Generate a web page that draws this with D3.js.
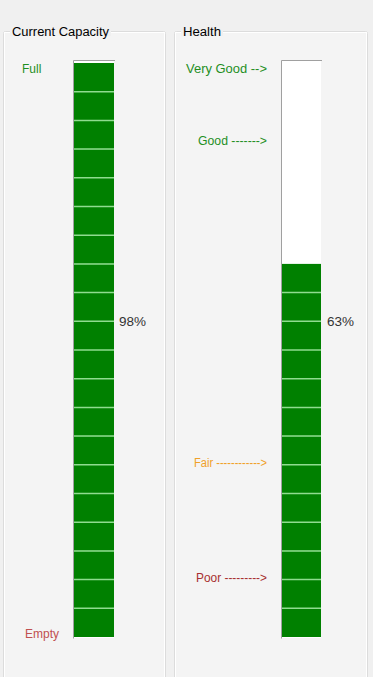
<!DOCTYPE html>
<html lang="en">
<head>
    <meta charset="UTF-8">
    <title>Battery</title>
    <script src="https://cdn.jsdelivr.net/npm/d3@7"></script>
    <style>
        body { margin: 0; background: #f0f0f0; }
        svg { display: block; font-family: "Liberation Sans", Arial, sans-serif; font-size: 12px; }
    </style>
</head>
<body>
<script>
    // values
    const capacity = 98;
    const health = 63;
    const segmentCount = 20;

    const capacityLabels = ['Full', 'Empty'];
    const capacityLabelValues = [99, 0.6];
    const capacityLabelColors = ['#1f8f1f', '#c05050'];

    const healthLabels = ['Very Good -->', 'Good ------->', 'Fair ------------>', 'Poor --------->'];
    const healthLabelValues = [99, 86.5, 30.3, 10.4];
    const healthLabelColors = ['#1f8f1f', '#1f8f1f', '#f0a028', '#a83030'];

    const W = 373, H = 677;
    const svg = d3.select('body').append('svg').attr('width', W).attr('height', H);

    // scale shared by both bars
    const y = d3.scaleLinear().domain([0, 100]).range([637, 63]);
    const segH = (y(0) - y(100)) / segmentCount;

    // group boxes
    function groupBox(x0, x1, title, tw) {
        const g = svg.append('g');
        g.append('rect').attr('x', x0 + 0.5).attr('y', 31.5).attr('width', x1 - x0).attr('height', H)
            .attr('rx', 2).attr('fill', '#f4f4f4').attr('stroke', '#dcdcdc');
        g.append('rect').attr('x', x0 + 1.5).attr('y', 32.5).attr('width', x1 - x0 - 2).attr('height', H)
            .attr('fill', 'none').attr('stroke', '#ffffff');
        const t = g.append('text').attr('x', x0 + 9).attr('y', 36).attr('fill', '#000')
            .attr('textLength', tw).attr('lengthAdjust', 'spacingAndGlyphs').text(title);
        const bb = t.node().getBBox();
        g.insert('rect', 'text').attr('x', bb.x - 2).attr('y', 28).attr('width', bb.width + 4).attr('height', 8)
            .attr('fill', '#f0f0f0');
    }
    groupBox(3, 165, 'Current Capacity', 97);
    groupBox(174, 367, 'Health', 38);

    // segmented bar
    function bar(x0, width, value, pctX) {
        const g = svg.append('g');
        g.append('rect').attr('x', x0).attr('y', y(100) - 2).attr('width', width + 1).attr('height', y(0) - y(100) + 3)
            .attr('fill', '#ffffff');
        g.append('path')
            .attr('d', `M${x0 + 0.5},${y(0) + 1.5}V${y(100) - 2.5}H${x0 + width + 2}`)
            .attr('fill', 'none').attr('stroke', '#a0a0a0');
        const n = Math.ceil(value / (100 / segmentCount));
        const cells = d3.range(n);
        g.selectAll('rect.cell').data(cells).join('rect')
            .attr('class', 'cell')
            .attr('x', x0 + 1)
            .attr('y', d => y(0) - (d + 1) * segH)
            .attr('width', width)
            .attr('height', segH)
            .attr('fill', '#008000');
        g.selectAll('line.sep').data(cells.slice(1)).join('line')
            .attr('class', 'sep')
            .attr('x1', x0 + 1).attr('x2', x0 + 1 + width)
            .attr('y1', d => y(0) - d * segH).attr('y2', d => y(0) - d * segH)
            .attr('stroke', '#8fdc8f').attr('stroke-width', 1.5);
        g.append('text').attr('x', pctX).attr('y', y(55)).attr('dy', '0.35em')
            .attr('fill', '#333').attr('textLength', 27).attr('lengthAdjust', 'spacingAndGlyphs')
            .text(value + '%');
    }
    bar(73, 40, capacity, 119);
    bar(281, 39, health, 327);

    // capacity labels
    const capX = [22, 25];
    svg.selectAll('text.cap').data(capacityLabels).join('text')
        .attr('class', 'cap')
        .attr('x', (d, i) => capX[i])
        .attr('y', (d, i) => y(capacityLabelValues[i]))
        .attr('dy', '0.35em')
        .attr('fill', (d, i) => capacityLabelColors[i])
        .text(d => d);

    // health labels, widths as in the original dialog font
    const hlWidths = [81, 69, 73, 71];
    svg.selectAll('text.hl').data(healthLabels).join('text')
        .attr('class', 'hl')
        .attr('x', 267)
        .attr('text-anchor', 'end')
        .attr('y', (d, i) => y(healthLabelValues[i]))
        .attr('dy', '0.35em')
        .attr('fill', (d, i) => healthLabelColors[i])
        .attr('textLength', (d, i) => hlWidths[i])
        .attr('lengthAdjust', 'spacingAndGlyphs')
        .text(d => d);
</script>
</body>
</html>
